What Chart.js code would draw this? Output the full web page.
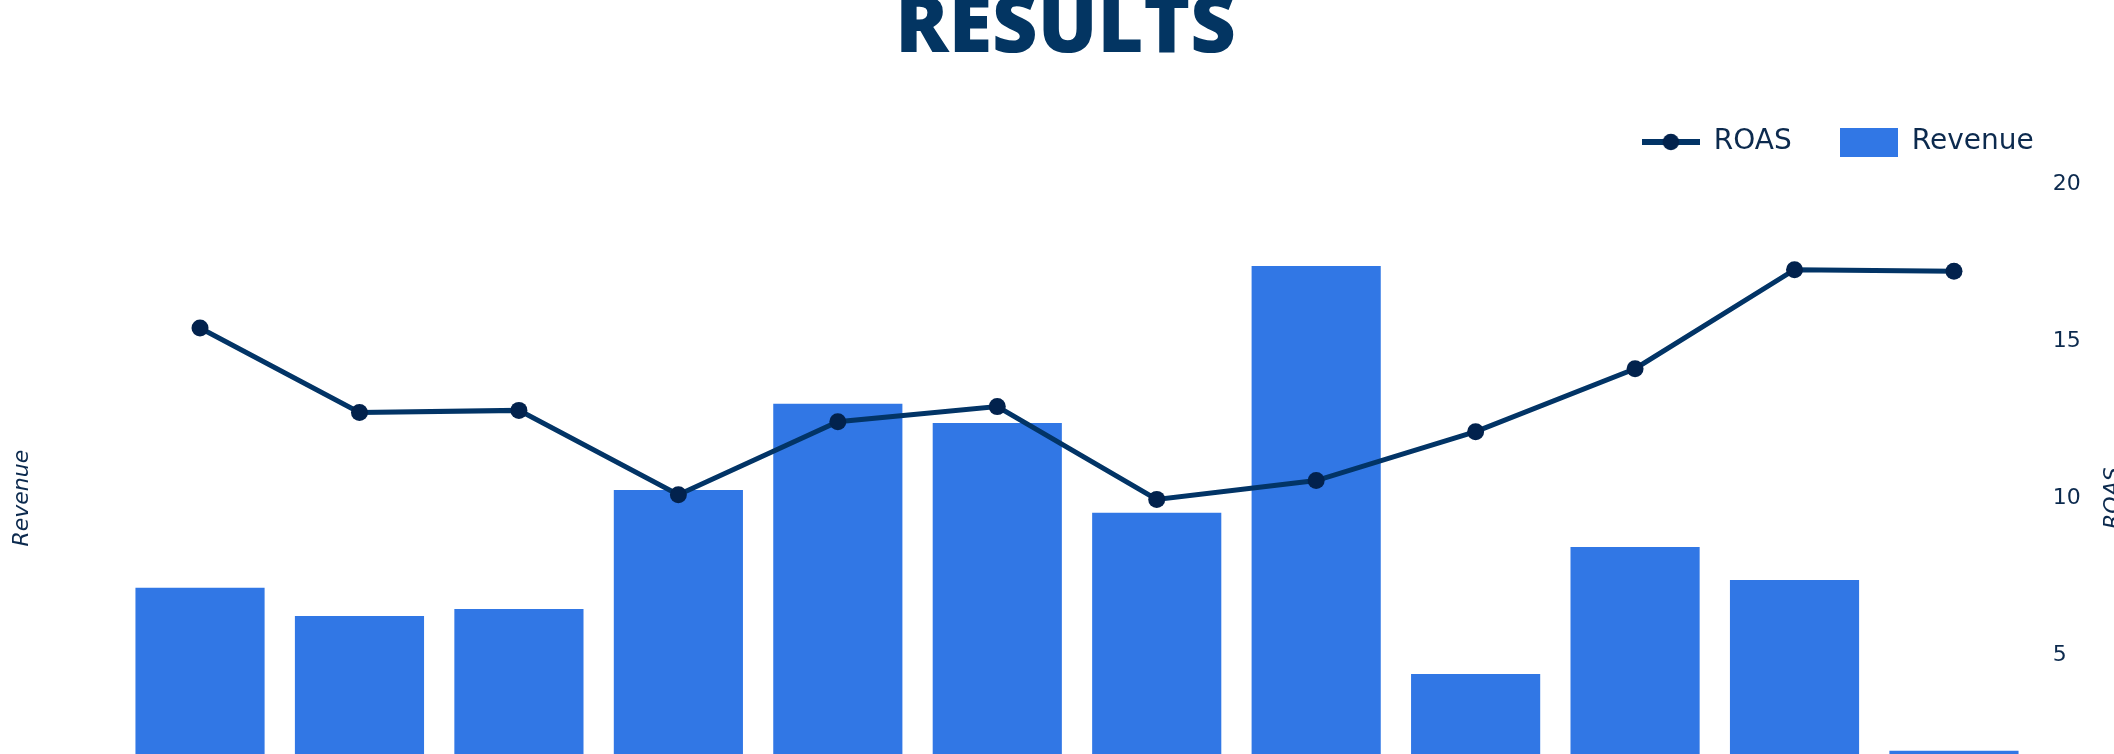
<!DOCTYPE html>
<html>
<head>
<meta charset="utf-8">
<script src="https://cdn.jsdelivr.net/npm/chart.js@4.4.1/dist/chart.umd.min.js"></script>
<style>
html,body{margin:0;padding:0;background:#ffffff;overflow:hidden;width:2114px;height:754px}
#c{position:absolute;left:0;top:0;}
</style>
</head>
<body>
<canvas id="c" width="2131" height="900" style="width:2131px;height:900px"></canvas>
<script>
// ---- data ----
const categories = ['Jan', 'Feb', 'Mar', 'Apr', 'May', 'Jun', 'Jul', 'Aug', 'Sep', 'Oct', 'Nov', 'Dec'];
const revenue = [7140, 6240, 6460, 10260, 13010, 12400, 9530, 17410, 4390, 8440, 7390, 1940];
const roas = [15.43, 12.73, 12.80, 10.11, 12.44, 12.92, 9.96, 10.56, 12.12, 14.13, 17.29, 17.24];
const roasTickStep = 5;
const roasMax = 20;
const revenueMax = 20000;
const titleText = 'RESULTS';
const revenueLabel = 'Revenue';
const roasLabel = 'ROAS';

// ---- styles ----
const BAR = '#3177e5';
const LINE = '#023466';
const POINT = '#02224d';
const TEXT = '#0c2a4e';
const FONT = '"DejaVu Sans", sans-serif';

function legendIconLine() {
  const c = document.createElement('canvas');
  c.width = 58; c.height = 28;
  const x = c.getContext('2d');
  x.fillStyle = LINE;
  x.fillRect(0, 11, 58, 6);
  x.fillStyle = POINT;
  x.beginPath(); x.arc(29, 14, 8.3, 0, Math.PI * 2); x.fill();
  return c;
}
function legendIconBar() {
  const c = document.createElement('canvas');
  c.width = 58; c.height = 29;
  const x = c.getContext('2d');
  x.fillStyle = BAR;
  x.fillRect(0, 0, 58, 29);
  return c;
}
const icons = { line: legendIconLine(), bar: legendIconBar() };

const LEGEND_PAD = 48;
const LEGEND_FONT = 28;
const LEGEND_TOP = 142 - LEGEND_PAD - LEGEND_FONT / 2;

const legendPlace = {
  id: 'legendPlace',
  afterLayout(chart) {
    const lg = chart.legend;
    const dx = chart.chartArea.right + LEGEND_PAD - lg.right;
    lg.left += dx; lg.right += dx;
    const dy = LEGEND_TOP - lg.top;
    lg.top += dy; lg.bottom += dy;
  }
};

const roasTitle = {
  id: 'roasTitle',
  afterDraw(chart) {
    const s = chart.scales.y1;
    const ctx = chart.ctx;
    ctx.save();
    ctx.font = 'italic 22px ' + FONT;
    ctx.fillStyle = TEXT;
    ctx.textAlign = 'center';
    ctx.textBaseline = 'middle';
    ctx.translate(s.right - 18, (chart.chartArea.top + chart.chartArea.bottom) / 2);
    ctx.rotate(-Math.PI / 2);
    ctx.fillText(roasLabel, 0, 0);
    ctx.restore();
  }
};

new Chart(document.getElementById('c'), {
  data: {
    labels: categories,
    datasets: [
      {
        type: 'line',
        label: roasLabel,
        data: roas,
        yAxisID: 'y1',
        order: 1,
        borderColor: LINE,
        borderWidth: 5,
        tension: 0,
        pointRadius: 8.5,
        pointHoverRadius: 8.5,
        pointBorderWidth: 0,
        pointBackgroundColor: POINT,
        backgroundColor: POINT
      },
      {
        type: 'bar',
        label: revenueLabel,
        data: revenue,
        yAxisID: 'y',
        order: 2,
        backgroundColor: BAR,
        borderWidth: 0,
        categoryPercentage: 0.9,
        barPercentage: 0.9
      }
    ]
  },
  options: {
    responsive: false,
    animation: false,
    layout: { padding: 0, autoPadding: false },
    plugins: {
      tooltip: { enabled: false },
      title: {
        display: true,
        text: titleText,
        color: '#033562',
        font: { family: '"Open Sans", sans-serif', weight: 800, size: 79, lineHeight: 0.75 },
        padding: { top: 0, bottom: 39.5 }
      },
      legend: {
        display: true,
        position: 'top',
        align: 'end',
        labels: {
          usePointStyle: true,
          pointStyleWidth: 58,
          boxHeight: LEGEND_FONT,
          padding: LEGEND_PAD,
          color: TEXT,
          font: { family: FONT, size: LEGEND_FONT },
          generateLabels(chart) {
            const items = Chart.defaults.plugins.legend.labels.generateLabels(chart);
            return items.map(it => {
              const ds = chart.data.datasets[it.datasetIndex];
              it.pointStyle = ds.type === 'line' ? icons.line : icons.bar;
              it.fontColor = TEXT;
              return it;
            });
          }
        }
      }
    },
    scales: {
      x: {
        grid: { display: false, drawTicks: false },
        border: { display: false },
        ticks: { color: TEXT, font: { family: FONT, size: 22 }, padding: 12 },
        afterFit(scale) { scale.height = 88.5; }
      },
      y: {
        position: 'left',
        min: 0,
        max: revenueMax,
        grid: { display: false, drawTicks: false },
        border: { display: false },
        ticks: { display: false },
        title: {
          display: true,
          text: revenueLabel,
          color: TEXT,
          font: { family: FONT, size: 22, style: 'italic', lineHeight: 1.2 },
          padding: { top: 8.8, bottom: 0 }
        },
        afterFit(scale) { scale.width = 120.3; }
      },
      y1: {
        position: 'right',
        min: 0,
        max: roasMax,
        grid: { display: false, drawTicks: false },
        border: { display: false },
        ticks: { stepSize: roasTickStep, color: TEXT, font: { family: FONT, size: 22 }, padding: 19 },
        title: { display: false },
        afterFit(scale) { scale.width = 97.3; }
      }
    }
  },
  plugins: [legendPlace, roasTitle]
});
</script>
</body>
</html>
